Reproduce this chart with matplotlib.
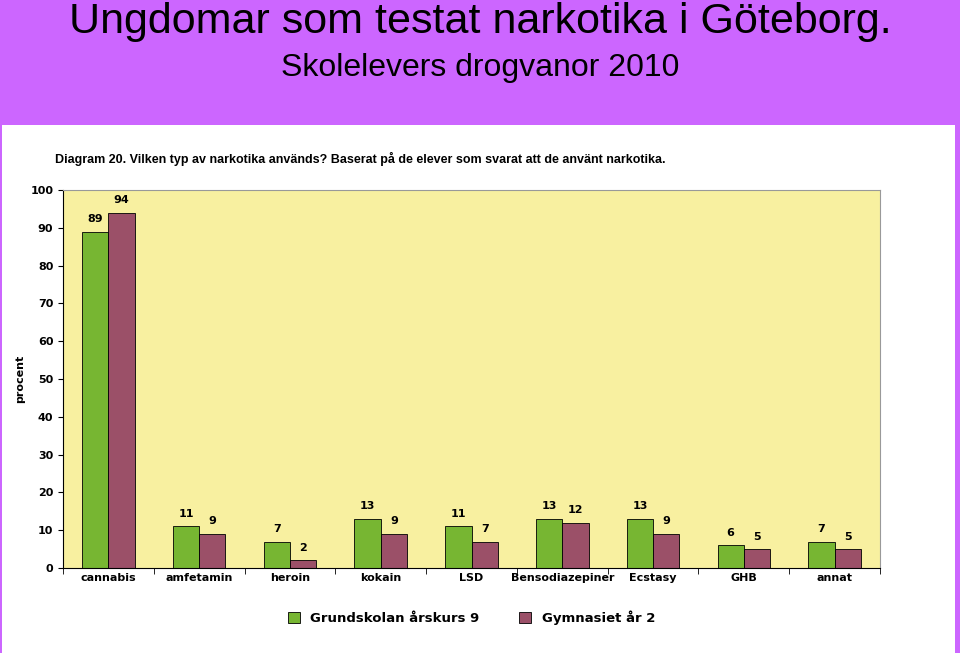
import matplotlib
matplotlib.use("Agg")
import matplotlib.pyplot as plt
import numpy as np

categories = ["cannabis", "amfetamin", "heroin", "kokain", "LSD", "Bensodiazepiner", "Ecstasy", "GHB", "annat"]
grundskolan = [89, 11, 7, 13, 11, 13, 13, 6, 7]
gymnasiet = [94, 9, 2, 9, 7, 12, 9, 5, 5]
yticks = list(range(0, 101, 10))

W, H = 960, 653
fig = plt.figure(figsize=(W/100, H/100), dpi=100)
fig.patch.set_facecolor("#CC66FF")

# white panel
panel = fig.add_axes([2/W, 0, 953/W, 1 - 125/H])
panel.set_facecolor("white")
panel.set_xticks([]); panel.set_yticks([])
for s in panel.spines.values():
    s.set_visible(False)

fig.text(0.5, 1 - 22/H, "Ungdomar som testat narkotika i Göteborg.", ha="center", va="center",
         fontsize=31, family="Liberation Sans")
fig.text(0.5, 1 - 68/H, "Skolelevers drogvanor 2010", ha="center", va="center",
         fontsize=23, family="Liberation Sans")
fig.text(55/W, 1 - 159/H, "Diagram 20. Vilken typ av narkotika används? Baserat på de elever som svarat att de använt narkotika.",
         ha="left", va="center", fontsize=9, fontweight="bold", family="Liberation Sans")

ax = fig.add_axes([63/W, 1 - 568/H, (880-63)/W, (568-190)/H])
ax.set_facecolor("#F8F0A0")
x = np.arange(len(categories))
w = 0.29
b1 = ax.bar(x - w/2, grundskolan, w, color="#77B632", edgecolor="black", linewidth=0.6,
            label="Grundskolan årskurs 9")
b2 = ax.bar(x + w/2, gymnasiet, w, color="#9B5068", edgecolor="black", linewidth=0.6,
            label="Gymnasiet år 2")
for bars, vals in ((b1, grundskolan), (b2, gymnasiet)):
    for r, v in zip(bars, vals):
        ax.text(r.get_x() + r.get_width()/2, v + 2, str(v), ha="center", va="bottom",
                fontsize=8, fontweight="bold")
ax.set_xlim(-0.5, len(categories) - 0.5)
ax.set_ylim(0, 100)
ax.set_yticks(yticks)
ax.set_xticks(x)
ax.set_xticklabels(categories, fontsize=8, fontweight="bold")
ax.tick_params(axis="y", labelsize=8, width=0.8)
for lab in ax.get_yticklabels():
    lab.set_fontweight("bold")
ax.set_xticks(np.arange(len(categories) + 1) - 0.5, minor=True)
ax.tick_params(axis="x", which="major", length=0)
ax.tick_params(axis="x", which="minor", length=4)
for s in ["top", "right"]:
    ax.spines[s].set_color("#999999")
ax.set_ylabel("procent", fontsize=8, fontweight="bold")
ax.legend(loc="upper center", bbox_to_anchor=(0.5, -0.08), ncol=2, frameon=False,
          prop={"size": 9.5, "weight": "bold"}, handlelength=0.9, handleheight=0.9,
          columnspacing=3)

fig.savefig("out.png", dpi=100, facecolor=fig.get_facecolor())
